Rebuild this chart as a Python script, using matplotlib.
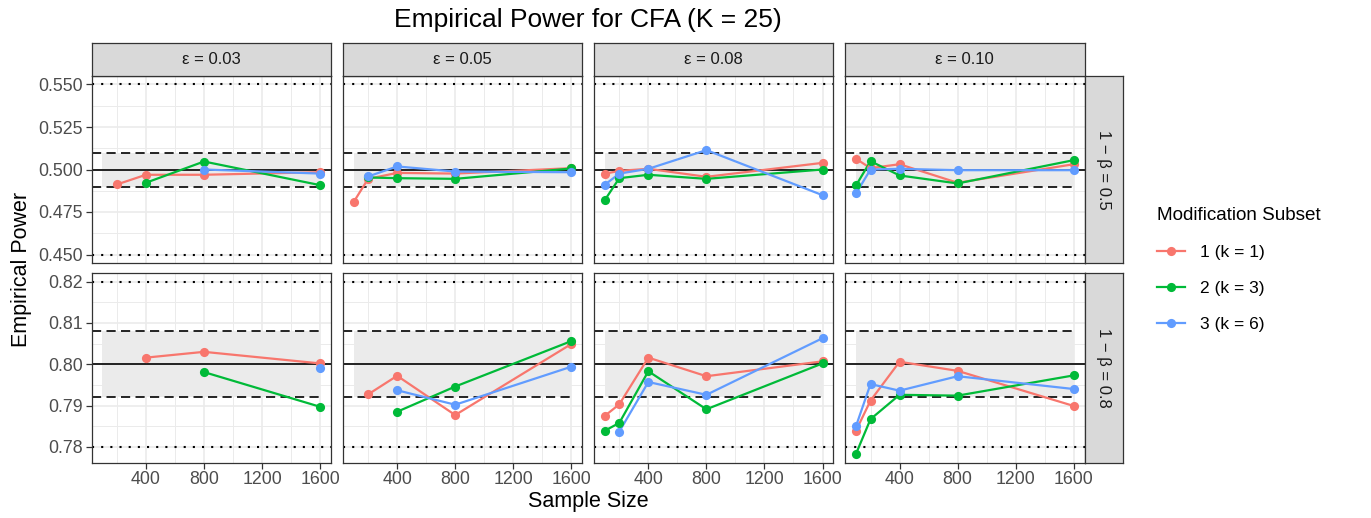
import numpy as np
import matplotlib
matplotlib.use("Agg")
import matplotlib.pyplot as plt
from matplotlib.lines import Line2D
from matplotlib.ticker import FixedLocator

plt.rcParams['font.family'] = ['Liberation Sans', 'DejaVu Sans']

nan = np.nan

# ---- data ----
sample_sizes = [100, 200, 400, 800, 1600]
epsilons = ['0.03', '0.05', '0.08', '0.10']
powers = ['0.5', '0.8']
subset_labels = ['1 (k = 1)', '2 (k = 3)', '3 (k = 6)']
subset_colors = ['#F8766D', '#00BA38', '#619CFF']

# reference lines for each power row
targets = [0.50, 0.80]
band_half = [0.010, 0.008]
outer_half = [0.050, 0.020]

# power = 0.5, one row per epsilon
p50_k1 = [[nan, 0.4912, 0.4969, 0.4969, 0.4984],
          [0.4808, 0.4945, 0.4980, 0.4976, 0.5008],
          [0.4975, 0.4992, 0.5004, 0.4957, 0.5039],
          [0.5063, 0.5008, 0.5031, 0.4922, 0.5031]]
p50_k3 = [[nan, nan, 0.4922, 0.5047, 0.4908],
          [nan, 0.4953, 0.4949, 0.4945, 0.5006],
          [0.4820, 0.4949, 0.4969, 0.4945, 0.5000],
          [0.4906, 0.5049, 0.4965, 0.4918, 0.5055]]
p50_k6 = [[nan, nan, nan, 0.5000, 0.4976],
          [nan, 0.4959, 0.5018, 0.4988, 0.4984],
          [0.4910, 0.4976, 0.5004, 0.5114, 0.4849],
          [0.4859, 0.5000, 0.5004, 0.4996, 0.4996]]

# power = 0.8, one row per epsilon
p80_k1 = [[nan, nan, 0.8016, 0.8030, 0.8002],
          [nan, 0.7927, 0.7972, 0.7877, 0.8049],
          [0.7875, 0.7903, 0.8016, 0.7971, 0.8007],
          [0.7839, 0.7912, 0.8006, 0.7984, 0.7899]]
p80_k3 = [[nan, nan, nan, 0.7981, 0.7897],
          [nan, nan, 0.7885, 0.7946, 0.8056],
          [0.7839, 0.7858, 0.7983, 0.7891, 0.8002],
          [0.7783, 0.7867, 0.7926, 0.7924, 0.7973]]
p80_k6 = [[nan, nan, nan, nan, 0.7992],
          [nan, nan, 0.7937, 0.7902, 0.7994],
          [nan, 0.7837, 0.7957, 0.7926, 0.8063],
          [0.7850, 0.7952, 0.7936, 0.7971, 0.7940]]

rows = [[p50_k1, p50_k3, p50_k6], [p80_k1, p80_k3, p80_k6]]
y_major = [[0.450, 0.475, 0.500, 0.525, 0.550], [0.78, 0.79, 0.80, 0.81, 0.82]]
y_fmt = ['%.3f', '%.2f']
x_major = [400, 800, 1200, 1600]
x_minor = [200, 600, 1000, 1400]

# ---- layout in pixels ----
W, H = 1371, 518
fig = plt.figure(figsize=(W / 100, H / 100), dpi=100)


def rect(x0, y0, x1, y1):
    return [x0 / W, 1 - y1 / H, (x1 - x0) / W, (y1 - y0) / H]


col_left = [91.5 + c * 251.2 for c in range(4)]
col_w = 239.5
row_top = [76, 273]
row_bot = [263, 462.5]
EDGE = '#333333'
GRID = '#EBEBEB'
LW = 1.6
MS = 6.6

xs = np.array(sample_sizes, dtype=float)
xpad = (xs.max() - xs.min()) * 0.05
xlim = (xs.min() - xpad, xs.max() + xpad)

for r in range(2):
    vals = np.array(rows[r], dtype=float)
    lo = min(np.nanmin(vals), targets[r] - outer_half[r])
    hi = max(np.nanmax(vals), targets[r] + outer_half[r])
    ypad = (hi - lo) * 0.05
    ylim = (lo - ypad, hi + ypad)
    ystep = y_major[r][1] - y_major[r][0]
    y_minor = [v + ystep / 2 for v in [y_major[r][0] - ystep] + y_major[r]]

    for c in range(4):
        ax = fig.add_axes(rect(col_left[c], row_top[r], col_left[c] + col_w, row_bot[r]))
        ax.set_xlim(xlim)
        ax.set_ylim(ylim)
        ax.set_axisbelow(True)
        ax.xaxis.set_major_locator(FixedLocator(x_major))
        ax.xaxis.set_minor_locator(FixedLocator(x_minor))
        ax.yaxis.set_major_locator(FixedLocator(y_major[r]))
        ax.yaxis.set_minor_locator(FixedLocator(y_minor))
        ax.set_yticklabels([y_fmt[r] % v for v in y_major[r]])
        ax.grid(which='major', color=GRID, lw=1.2)
        ax.grid(which='minor', color=GRID, lw=0.7)
        for s in ax.spines.values():
            s.set_color(EDGE)
            s.set_linewidth(0.9)
        ax.tick_params(which='major', length=4, width=0.9, color=EDGE,
                       labelcolor='#4D4D4D', labelsize=12.8, pad=2)
        ax.tick_params(which='minor', length=0)
        if c > 0:
            ax.tick_params(left=False, labelleft=False)
        if r == 0:
            ax.tick_params(bottom=False, labelbottom=False)

        t, b, o = targets[r], band_half[r], outer_half[r]
        ax.fill_between([xs.min(), xs.max()], t - b, t + b, color='#EBEBEB',
                        lw=0, zorder=1)
        ax.axhline(t, color='black', lw=1.2, zorder=2)
        ax.hlines([t - b, t + b], xlim[0], xs.max(), color='black', lw=1.2,
                  linestyles=[(0, (5.5, 3.2))], zorder=2)
        ax.hlines([t - o, t + o], xlim[0], xlim[1], color='black', lw=1.5,
                  linestyles=[(0, (1, 3.4))], zorder=2)

        for k in range(3):
            ax.plot(xs, vals[k, c], color=subset_colors[k], lw=LW, zorder=3)
        for k in range(3):
            ax.plot(xs, vals[k, c], 'o', color=subset_colors[k], ms=MS,
                    mec='none', zorder=4)

        if r == 0:
            sax = fig.add_axes(rect(col_left[c], 42.5, col_left[c] + col_w, 76))
            sax.set_facecolor('#D9D9D9')
            sax.set_xticks([])
            sax.set_yticks([])
            for s in sax.spines.values():
                s.set_color(EDGE)
                s.set_linewidth(0.9)
            sax.text(0.5, 0.5, '\u03b5 = ' + epsilons[c], ha='center', va='center',
                     fontsize=12, color='#1A1A1A', transform=sax.transAxes)

    rax = fig.add_axes(rect(1084.5, row_top[r], 1122.5, row_bot[r]))
    rax.set_facecolor('#D9D9D9')
    rax.set_xticks([])
    rax.set_yticks([])
    for s in rax.spines.values():
        s.set_color(EDGE)
        s.set_linewidth(0.9)
    rax.text(0.5, 0.5, '1 \u2212 \u03b2 = ' + powers[r], ha='center', va='center',
             rotation=-90, fontsize=12, color='#1A1A1A', transform=rax.transAxes)

fig.text(588 / W, 1 - 20 / H, 'Empirical Power for CFA (K = 25)', ha='center',
         va='center', fontsize=19, color='black')
fig.text(588 / W, 1 - 501 / H, 'Sample Size', ha='center', va='center',
         fontsize=15.5, color='black')
fig.text(22 / W, 1 - 269 / H, 'Empirical Power', ha='center', va='center',
         rotation=90, fontsize=15.5, color='black')

handles = [Line2D([], [], color=col, lw=LW, marker='o', ms=MS, mec='none')
           for col in subset_colors]
fig.legend(handles, subset_labels, title='Modification Subset', loc='upper left',
           bbox_to_anchor=(1150 / W, 1 - 200 / H), frameon=False, alignment='left',
           fontsize=12.5, title_fontsize=13.6, handlelength=1.6, labelspacing=1.2,
           handletextpad=0.9, borderaxespad=0)

fig.savefig('out.png', dpi=100)
